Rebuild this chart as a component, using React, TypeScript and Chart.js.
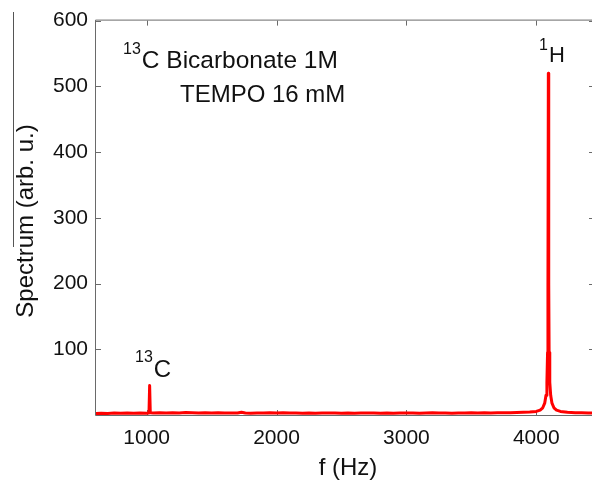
import React, { useEffect, useRef } from "react";
import { Chart, registerables } from "chart.js";

Chart.register(...registerables);

// Frequency axis (Hz) of the measured spectrum
const freqHz = [
  610, 650, 700, 750, 800, 850, 900, 950, 1000, 1018, 1023, 1028, 1050, 1100,
  1150, 1200, 1250, 1300, 1350, 1400, 1450, 1500, 1550, 1600, 1650, 1700, 1730,
  1760, 1800, 1850, 1900, 1950, 2000, 2050, 2100, 2150, 2200, 2250, 2300, 2350,
  2400, 2450, 2500, 2550, 2600, 2650, 2700, 2750, 2800, 2850, 2900, 2950, 3000,
  3050, 3100, 3150, 3200, 3250, 3300, 3350, 3400, 3450, 3500, 3550, 3600, 3650,
  3700, 3750, 3800, 3850, 3900, 3950, 4000, 4030, 4050, 4065, 4075, 4082, 4087,
  4090, 4093, 4096, 4099, 4104, 4111, 4121, 4136, 4156, 4186, 4240, 4300, 4350,
  4400, 4460,
];

// Spectrum amplitude (arb. u.) at each frequency
const spectrum = [
  2.2, 2.6, 2.4, 2.9, 2.5, 3.1, 2.7, 3.0, 2.8, 3.2, 45, 3.4, 3.0, 3.3,
  3.1, 3.6, 3.2, 3.8, 3.4, 3.1, 3.5, 3.0, 3.3, 2.9, 3.2, 3.0, 4.2,
  3.1, 2.8, 3.2, 2.9, 3.3, 3.0, 3.4, 2.9, 3.1, 2.7, 3.0, 2.8, 3.2,
  2.9, 3.1, 2.7, 3.0, 2.8, 3.1, 2.9, 3.2, 2.8, 3.0, 2.7, 3.1, 2.9,
  3.2, 2.8, 3.0, 3.3, 2.9, 3.1, 2.8, 3.2, 3.0, 3.3, 3.1, 3.4, 3.2,
  3.5, 3.3, 3.6, 3.8, 4.1, 4.6, 5.5, 7.5, 11, 18, 30, 50, 95,
  200, 520, 200, 95, 50, 30, 18, 11, 7.5, 5.5, 4.3, 3.6, 3.3,
  3.1, 3.0,
];

const xTickValues = [1000, 2000, 3000, 4000];
const yTickValues = [100, 200, 300, 400, 500, 600];
const xLimits = [610, 4460];
const yLimits = [0, 600];

const FONT = '"Liberation Sans", Arial, Helvetica, sans-serif';
const AXIS_GREY = "#6a6a6a";
const TEXT = "#111111";

function drawSupText(
  ctx: CanvasRenderingContext2D,
  sup: string,
  main: string,
  x: number,
  supBaseline: number,
  mainBaseline: number,
  supSize: number,
  mainSize: number
) {
  ctx.textAlign = "left";
  ctx.textBaseline = "alphabetic";
  ctx.font = `${supSize}px ${FONT}`;
  ctx.fillText(sup, x, supBaseline);
  const w = ctx.measureText(sup).width;
  ctx.font = `${mainSize}px ${FONT}`;
  ctx.fillText(main, x + w + 1, mainBaseline);
}

// Box frame with inward ticks, drawn beneath the trace
const framePlugin = {
  id: "frame",
  beforeDatasetsDraw(chart: any) {
    const { ctx, chartArea } = chart;
    const { left, right, top, bottom } = chartArea;
    const xs = chart.scales.x;
    const ys = chart.scales.y;
    ctx.save();
    ctx.strokeStyle = AXIS_GREY;
    ctx.lineWidth = 1;
    ctx.beginPath();
    ctx.moveTo(left - 0.5, top - 0.5);
    ctx.lineTo(right + 0.5, top - 0.5);
    ctx.moveTo(left - 0.5, top - 0.5);
    ctx.lineTo(left - 0.5, bottom + 0.5);
    ctx.moveTo(left - 0.5, bottom + 0.5);
    ctx.lineTo(right + 0.5, bottom + 0.5);
    ctx.moveTo(right + 0.5, top - 0.5);
    ctx.lineTo(right + 0.5, bottom + 0.5);
    const tl = 5;
    for (const v of xTickValues) {
      const px = Math.round(xs.getPixelForValue(v)) + 0.5;
      ctx.moveTo(px, bottom);
      ctx.lineTo(px, bottom - tl);
      ctx.moveTo(px, top);
      ctx.lineTo(px, top + tl);
    }
    for (const v of yTickValues) {
      const py = Math.round(ys.getPixelForValue(v)) + 0.5;
      ctx.moveTo(left, py);
      ctx.lineTo(left + tl, py);
      ctx.moveTo(right, py);
      ctx.lineTo(right - tl - 2, py);
    }
    ctx.stroke();
    ctx.restore();
  },
  afterDraw(chart: any) {
    const { ctx } = chart;
    ctx.save();
    ctx.fillStyle = TEXT;

    // axis titles
    ctx.font = `24px ${FONT}`;
    ctx.textAlign = "center";
    ctx.textBaseline = "alphabetic";
    ctx.fillText("f (Hz)", 348, 475);
    ctx.save();
    ctx.translate(33, 221);
    ctx.rotate(-Math.PI / 2);
    ctx.fillText("Spectrum (arb. u.)", 0, 0);
    ctx.restore();

    // sample description
    drawSupText(ctx, "13", "C Bicarbonate 1M", 123, 54, 68, 16, 24.5);
    ctx.font = `24px ${FONT}`;
    ctx.textAlign = "left";
    ctx.fillText("TEMPO 16 mM", 180, 102);

    // peak labels
    drawSupText(ctx, "13", "C", 135, 362, 377, 16, 24);
    drawSupText(ctx, "1", "H", 539, 50, 62, 16, 22);

    // thin rule at the far left edge
    ctx.strokeStyle = "#555555";
    ctx.lineWidth = 1;
    ctx.beginPath();
    ctx.moveTo(13.5, 12);
    ctx.lineTo(13.5, 247);
    ctx.stroke();

    ctx.restore();
  },
};

export default function App() {
  const canvasRef = useRef<HTMLCanvasElement | null>(null);

  useEffect(() => {
    const canvas = canvasRef.current;
    if (!canvas) return;
    const points = freqHz.map((f, i) => ({ x: f, y: spectrum[i] }));
    const chart = new Chart(canvas, {
      type: "line",
      data: {
        datasets: [
          {
            data: points,
            borderColor: "#ff0000",
            borderWidth: 3,
            borderJoinStyle: "round",
            borderCapStyle: "round",
            pointRadius: 0,
            tension: 0,
            fill: false,
          },
        ],
      },
      options: {
        animation: false,
        responsive: false,
        devicePixelRatio: 1,
        layout: { padding: { left: 0, top: 20, right: 24, bottom: 0 } },
        plugins: {
          legend: { display: false },
          tooltip: { enabled: false },
          title: { display: false },
        },
        scales: {
          x: {
            type: "linear",
            min: xLimits[0],
            max: xLimits[1],
            grid: { display: false, drawTicks: false },
            border: { display: false },
            afterBuildTicks: (scale: any) => {
              scale.ticks = xTickValues.map((v) => ({ value: v }));
            },
            afterFit: (scale: any) => {
              scale.height = 66;
            },
            ticks: {
              padding: 11,
              color: TEXT,
              font: { family: FONT, size: 21 },
              maxRotation: 0,
              callback: (v: any) => String(v),
            },
          },
          y: {
            type: "linear",
            min: yLimits[0],
            max: yLimits[1],
            grid: { display: false, drawTicks: false },
            border: { display: false },
            afterBuildTicks: (scale: any) => {
              scale.ticks = yTickValues.map((v) => ({ value: v }));
            },
            afterFit: (scale: any) => {
              scale.width = 96;
            },
            ticks: {
              padding: 8,
              color: TEXT,
              font: { family: FONT, size: 21 },
              callback: (v: any) => String(v),
            },
          },
        },
      },
      plugins: [framePlugin],
    });
    return () => chart.destroy();
  }, []);

  return (
    <div
      style={{
        position: "absolute",
        left: 0,
        top: 0,
        width: 592,
        height: 481,
        overflow: "hidden",
        background: "#ffffff",
      }}
    >
      <canvas ref={canvasRef} width={620} height={481} style={{ display: "block" }} />
    </div>
  );
}
